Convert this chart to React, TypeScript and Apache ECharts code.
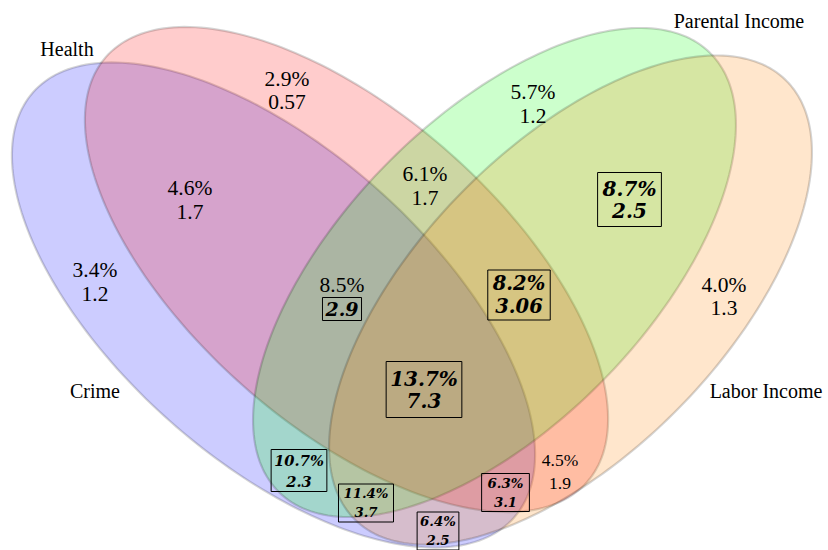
import React, { useEffect, useRef } from 'react';
import * as echarts from 'echarts';

// ---------- data ----------
const setNames = ['Crime', 'Health', 'Parental Income', 'Labor Income'];

const regionNames = [
  'Crime',
  'Health',
  'Crime ∩ Health',
  'Health ∩ Parental Income',
  'Parental Income',
  'Parental Income ∩ Labor Income',
  'Crime ∩ Health ∩ Parental Income',
  'Health ∩ Parental Income ∩ Labor Income',
  'Labor Income',
  'Crime ∩ Health ∩ Parental Income ∩ Labor Income',
  'Crime ∩ Parental Income',
  'Crime ∩ Parental Income ∩ Labor Income',
  'Crime ∩ Labor Income',
  'Crime ∩ Health ∩ Labor Income',
  'Health ∩ Labor Income',
];
const shares = [3.4, 2.9, 4.6, 6.1, 5.7, 8.7, 8.5, 8.2, 4.0, 13.7, 10.7, 11.4, 6.4, 6.3, 4.5];
const ratios = [1.2, 0.57, 1.7, 1.7, 1.2, 2.5, 2.9, 3.06, 1.3, 7.3, 2.3, 3.7, 2.5, 3.1, 1.9];
// which part of a region label is highlighted (boxed, bold italic)
const highlight = ['none', 'none', 'none', 'none', 'none', 'all', 'ratio', 'all', 'none', 'all', 'all', 'all', 'all', 'all', 'none'];

// ---------- layout (pixel-space data coordinates) ----------
const W = 828;
const H = 550;
const ellipseLayout = [
  { cx: 273.5, cy: 305, a: 321, b: 155.6, angle: 41.5 },
  { cx: 346.5, cy: 269.5, a: 321, b: 155.6, angle: 41.5 },
  { cx: 494.5, cy: 272.5, a: 307.7, b: 153, angle: -45.6 },
  { cx: 570.5, cy: 300, a: 307.7, b: 153, angle: -45.6 },
];
const ellipseFill = ['rgba(0,0,255,0.2)', 'rgba(255,0,0,0.2)', 'rgba(0,255,0,0.2)', 'rgba(255,128,0,0.2)'];

const nameLayout = [
  { x: 95, y: 391 },
  { x: 67, y: 49 },
  { x: 739, y: 21 },
  { x: 766, y: 391 },
];

const labelLayout = [
  { x: 95, y: 282, size: 21.5, lh: 23.5 },
  { x: 287, y: 90.5, size: 21.5, lh: 23.5 },
  { x: 190, y: 200, size: 21.5, lh: 23.5 },
  { x: 425, y: 186, size: 21.5, lh: 23.5 },
  { x: 533, y: 104, size: 21.5, lh: 23.5 },
  { x: 629.5, y: 199.5, size: 20, lh: 22, pad: [5, 5] },
  { x: 342, y: 297, size: 21.5, lh: 23, pad: [1, 3], bsize: 19 },
  { x: 519, y: 295, size: 19.5, lh: 23, pad: [2, 5] },
  { x: 724, y: 296.5, size: 21.5, lh: 23.5 },
  { x: 424, y: 389.5, size: 20, lh: 22, pad: [6, 4] },
  { x: 299, y: 470.5, size: 14.7, lh: 21, pad: [0, 3] },
  { x: 366, y: 503, size: 13.3, lh: 19, pad: [0, 5] },
  { x: 438, y: 531, size: 13.3, lh: 19, pad: [0, 3] },
  { x: 505.5, y: 492.5, size: 13.3, lh: 19, pad: [0, 6] },
  { x: 560, y: 471.5, size: 17.5, lh: 23 },
];

const PLAIN = '"Liberation Serif", "Times New Roman", serif';
const BOLD = '"DejaVu Serif", "Liberation Serif", serif';

export default function App() {
  const ref = useRef<HTMLDivElement>(null);

  useEffect(() => {
    document.body.style.margin = '0';
    if (!ref.current) return;
    const chart = echarts.init(ref.current, null, { renderer: 'svg' });

    const ellipseSeries = {
      type: 'custom',
      coordinateSystem: 'cartesian2d',
      silent: true,
      data: ellipseLayout.map((e, i) => [e.cx, e.cy, i]),
      renderItem: (params: any, api: any) => {
        const i = params.dataIndex;
        const e = ellipseLayout[i];
        const phi = (e.angle * Math.PI) / 180;
        const c = Math.cos(phi);
        const s = Math.sin(phi);
        const pts: number[][] = [];
        const n = 240;
        for (let k = 0; k < n; k++) {
          const t = (k / n) * Math.PI * 2;
          const u = e.a * Math.cos(t);
          const v = e.b * Math.sin(t);
          pts.push(api.coord([e.cx + u * c - v * s, e.cy + u * s + v * c]));
        }
        return {
          type: 'polygon',
          shape: { points: pts },
          style: { fill: ellipseFill[i], stroke: 'rgba(0,0,0,0.17)', lineWidth: 2.2, lineJoin: 'round' },
        };
      },
    };

    const labelSeries = {
      type: 'custom',
      coordinateSystem: 'cartesian2d',
      silent: true,
      data: shares.map((v, i) => [labelLayout[i].x, labelLayout[i].y, v, ratios[i]]),
      renderItem: (params: any, api: any) => {
        const i = params.dataIndex;
        const L: any = labelLayout[i];
        const p = api.coord([L.x, L.y]);
        const pct = shares[i].toFixed(1) + '%';
        const r = String(ratios[i]);
        const mode = highlight[i];
        if (mode === 'none') {
          return {
            type: 'text',
            x: p[0],
            y: p[1],
            style: {
              text: pct + '\n' + r,
              fontFamily: PLAIN,
              fontSize: L.size,
              lineHeight: L.lh,
              fill: '#000',
              align: 'center',
              verticalAlign: 'middle',
            },
          };
        }
        if (mode === 'all') {
          return {
            type: 'text',
            x: p[0],
            y: p[1],
            style: {
              text: pct + '\n' + r,
              fontFamily: BOLD,
              fontSize: L.size,
              fontWeight: 'bold',
              fontStyle: 'italic',
              lineHeight: L.lh,
              fill: '#000',
              align: 'center',
              verticalAlign: 'middle',
              borderColor: '#000',
              borderWidth: 1,
              padding: L.pad,
            },
          };
        }
        // ratio only highlighted
        return {
          type: 'group',
          children: [
            {
              type: 'text',
              x: p[0],
              y: p[1] - 12,
              style: {
                text: pct,
                fontFamily: PLAIN,
                fontSize: L.size,
                fill: '#000',
                align: 'center',
                verticalAlign: 'middle',
              },
            },
            {
              type: 'text',
              x: p[0],
              y: p[1] + 12,
              style: {
                text: r,
                fontFamily: BOLD,
                fontSize: L.bsize,
                fontWeight: 'bold',
                fontStyle: 'italic',
                lineHeight: 21,
                fill: '#000',
                align: 'center',
                verticalAlign: 'middle',
                borderColor: '#000',
                borderWidth: 1,
                padding: L.pad,
              },
            },
          ],
        };
      },
    };

    const nameSeries = {
      type: 'custom',
      coordinateSystem: 'cartesian2d',
      silent: true,
      data: setNames.map((nm, i) => [nameLayout[i].x, nameLayout[i].y]),
      renderItem: (params: any, api: any) => {
        const i = params.dataIndex;
        const p = api.coord([nameLayout[i].x, nameLayout[i].y]);
        return {
          type: 'text',
          x: p[0],
          y: p[1],
          style: {
            text: setNames[i],
            fontFamily: PLAIN,
            fontSize: 20,
            fill: '#000',
            align: 'center',
            verticalAlign: 'middle',
          },
        };
      },
    };

    chart.setOption({
      animation: false,
      backgroundColor: '#fff',
      grid: { left: 0, right: 0, top: 0, bottom: 0 },
      xAxis: { type: 'value', min: 0, max: W, show: false },
      yAxis: { type: 'value', min: 0, max: H, inverse: true, show: false },
      series: [ellipseSeries, labelSeries, nameSeries],
    });

    return () => chart.dispose();
  }, []);

  return <div ref={ref} style={{ width: W, height: H }} />;
}
